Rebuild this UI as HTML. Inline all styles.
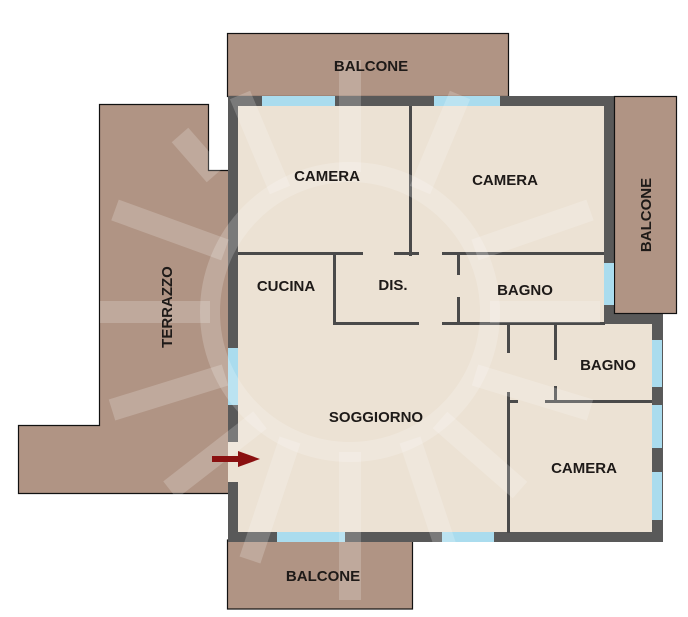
<!DOCTYPE html>
<html><head><meta charset="utf-8"><style>
body{margin:0;background:#fff;width:688px;height:617px;overflow:hidden}
svg{display:block}
text{font-family:"Liberation Sans",sans-serif;font-weight:bold;fill:#1e1a18;font-size:15px}
</style></head><body>
<svg width="688" height="617" viewBox="0 0 688 617">
<g fill="#b09484" stroke="#111" stroke-width="1.2">
<rect x="227.5" y="33.5" width="281" height="63"/>
<rect x="227.5" y="540" width="185" height="69"/>
<polygon points="99.5,104.5 208.5,104.5 208.5,170.5 229,170.5 229,493.5 18.5,493.5 18.5,425.5 99.5,425.5"/>
</g>
<polygon points="228,96 614,96 614,314 663,314 663,542 228,542" fill="#595959"/>
<rect x="614.5" y="96.5" width="62" height="217" fill="#b09484" stroke="#111" stroke-width="1.2"/>
<g fill="#ece2d4">
<rect x="238" y="106" width="366" height="218"/>
<rect x="238" y="324" width="414" height="208"/>
<rect x="228" y="442" width="10" height="40"/>
</g>
<g fill="#aadcee">
<rect x="262" y="96" width="73" height="10"/>
<rect x="434" y="96" width="66" height="10"/>
<rect x="604" y="263" width="10" height="42"/>
<rect x="652" y="340" width="10" height="47"/>
<rect x="652" y="405" width="10" height="43"/>
<rect x="652" y="472" width="10" height="48"/>
<rect x="277" y="532" width="68" height="10"/>
<rect x="442" y="532" width="52" height="10"/>
<rect x="228" y="348" width="10" height="57"/>
</g>
<g fill="#4a4a4a">
<rect x="409" y="106" width="3" height="150"/>
<rect x="238" y="252" width="125" height="3"/>
<rect x="394" y="252" width="25" height="3"/>
<rect x="442" y="252" width="162" height="3"/>
<rect x="333" y="253" width="3" height="72"/>
<rect x="333" y="322" width="86" height="3"/>
<rect x="442" y="322" width="163" height="3"/>
<rect x="457" y="253" width="3" height="22"/>
<rect x="457" y="297" width="3" height="28"/>
<rect x="507" y="324" width="3" height="29"/>
<rect x="507" y="392" width="3" height="141"/>
<rect x="554" y="324" width="3" height="36"/>
<rect x="554" y="386" width="3" height="16"/>
<rect x="507" y="400" width="11" height="3"/>
<rect x="545" y="400" width="107" height="3"/>
</g>
<g stroke="#ffffff" stroke-opacity="0.2" fill="none" stroke-width="20">
<circle cx="350" cy="312" r="140"/>
<g stroke-width="22">
<line x1="350" y1="172" x2="350" y2="60"/>
<line x1="280" y1="190" x2="240" y2="95"/>
<line x1="420" y1="190" x2="460" y2="95"/>
<line x1="225" y1="250" x2="115" y2="210"/>
<line x1="475" y1="250" x2="590" y2="210"/>
<line x1="210" y1="312" x2="100" y2="312"/>
<line x1="490" y1="312" x2="600" y2="312"/>
<line x1="225" y1="375" x2="112" y2="410"/>
<line x1="475" y1="375" x2="590" y2="410"/>
<line x1="260" y1="420" x2="170" y2="490"/>
<line x1="440" y1="420" x2="520" y2="490"/>
<line x1="350" y1="452" x2="350" y2="600"/>
<line x1="290" y1="440" x2="250" y2="560"/>
<line x1="410" y1="440" x2="450" y2="560"/>
<line x1="180" y1="135" x2="215" y2="175"/>
</g>
</g>
<polygon points="212,456 238,456 238,451 260,459 238,467 238,462 212,462" fill="#8a1010"/>
<text x="371" y="71" text-anchor="middle">BALCONE</text>
<text x="327" y="181" text-anchor="middle">CAMERA</text>
<text x="505" y="185" text-anchor="middle">CAMERA</text>
<text x="286" y="291" text-anchor="middle">CUCINA</text>
<text x="393" y="290" text-anchor="middle">DIS.</text>
<text x="525" y="295" text-anchor="middle">BAGNO</text>
<text x="608" y="370" text-anchor="middle">BAGNO</text>
<text x="376" y="422" text-anchor="middle">SOGGIORNO</text>
<text x="584" y="473" text-anchor="middle">CAMERA</text>
<text x="323" y="581" text-anchor="middle">BALCONE</text>
<text transform="translate(651,215) rotate(-90)" text-anchor="middle">BALCONE</text>
<text transform="translate(172,307) rotate(-90)" text-anchor="middle">TERRAZZO</text>
</svg>
</body></html>
